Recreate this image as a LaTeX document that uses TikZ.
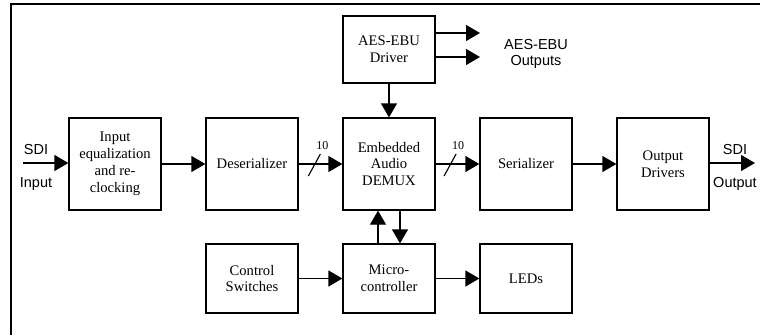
\documentclass[tikz,border=0pt]{standalone}
\usepackage{fontspec}
\setmainfont{Liberation Serif}
\setsansfont{Liberation Sans}
\usetikzlibrary{arrows.meta, positioning}

\begin{document}
\begin{tikzpicture}[
  x=1pt, y=-1pt,
  every node/.style={font=\fontsize{14.6}{16.9}\selectfont, align=center},
  blk/.style={draw, line width=1.3pt, minimum width=92pt, minimum height=92pt, inner sep=0pt},
  sblk/.style={blk, minimum height=69pt},
  sig/.style={line width=1.3pt, -{Triangle[length=14pt,width=16pt]}},
  lbl/.style={font=\sffamily\fontsize{14.5}{16.5}\selectfont},
  busw/.style={font=\fontsize{12}{14}\selectfont, inner sep=0pt}
]
\useasboundingbox (0,0) rectangle (760,335);
% frame (only top and left edge show)
\draw[line width=1.8pt] (11,335) -- (11,4) -- (760,4);
% Main row
\node[blk] (inp) at (115,164) {Input\\equalization\\and re-\\clocking};
\node[blk] (deser) at (252,164) {Deserializer};
\node[blk] (demux) at (389,164) {Embedded\\Audio\\DEMUX};
\node[blk] (ser) at (526,164) {Serializer};
\node[blk] (outdrv) at (663,164) {Output\\Drivers};
% Top and bottom rows
\node[sblk, minimum height=67pt] (aes) at (389,49.5) {AES-EBU\\Driver};
\node[sblk] (ctrl) at (252,278.5) {Control\\Switches};
\node[sblk] (micro) at (389,278.5) {Micro-\\controller};
\node[sblk] (leds) at (526,278.5) {LEDs};
% SDI in / out
\coordinate (sdiin) at (23,163);
\coordinate (sdiout) at (755,163);
\node[lbl] (sdia) at (36,150) {SDI};
\node[lbl] (inlbl) at (36,184) {Input};
\node[lbl] (sdib) at (735,150) {SDI};
\node[lbl] (outlbl) at (735,184) {Output};
\draw[sig] (sdiin) -- (inp.west |- sdiin);
\draw[sig] (inp) -- (deser);
\draw[sig] (deser) -- coordinate[pos=0.36] (bus1) (demux);
\draw[sig] (demux) -- coordinate[pos=0.33] (bus2) (ser);
\draw[sig] (ser) -- (outdrv);
\draw[sig] (outdrv.east |- sdiout) -- (sdiout);
% 10 bit buses
\foreach \b in {bus1,bus2}{
  \draw[line width=1.1pt] ([shift={(-6,12)}]\b) -- ([shift={(6,-10)}]\b);
  \node[busw] at ([shift={(8,-18)}]\b) {10};
}
% AES-EBU outputs
\coordinate (ao1) at (480,33);
\coordinate (ao2) at (480,57);
\draw[sig] (aes.east |- ao1) -- (ao1);
\draw[sig] (aes.east |- ao2) -- (ao2);
\node[lbl] (aeslbl) at (536,54) {AES-EBU\\Outputs};
\draw[sig] (aes) -- (demux);
% micro-controller links
\draw[sig] ([xshift=-11pt]micro.north) -- ([xshift=-11pt]demux.south);
\draw[sig] ([xshift=11pt]demux.south) -- ([xshift=11pt]micro.north);
\draw[sig] (ctrl) -- (micro);
\draw[sig] (micro) -- (leds);
\end{tikzpicture}
\end{document}
